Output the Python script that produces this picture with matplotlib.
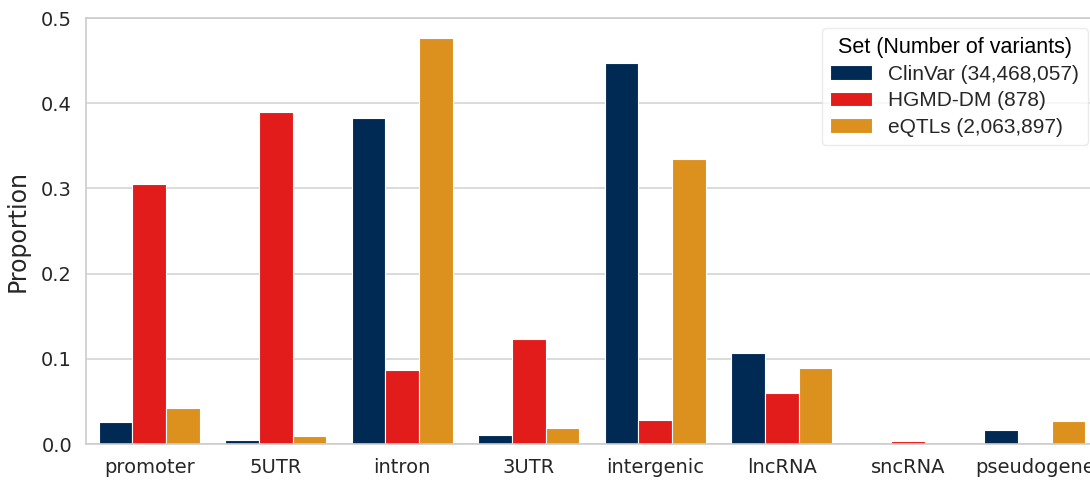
import numpy as np
import matplotlib
matplotlib.use("Agg")
import matplotlib.pyplot as plt
import seaborn as sns

# genomic region categories
regions = ["promoter", "5UTR", "intron", "3UTR", "intergenic",
           "lncRNA", "sncRNA", "pseudogene"]

# proportion of variants per region for each set
clinvar = [0.026, 0.005, 0.383, 0.011, 0.447, 0.107, 0.0, 0.017]
hgmd = [0.305, 0.390, 0.087, 0.123, 0.028, 0.060, 0.003, 0.0]
eqtls = [0.042, 0.009, 0.477, 0.019, 0.335, 0.089, 0.0, 0.027]

set_names = ["ClinVar (34,468,057)", "HGMD-DM (878)", "eQTLs (2,063,897)"]
set_colors = ["#002a54", "#e21b1b", "#dc901d"]

sns.set_theme(style="whitegrid")
plt.rcParams["font.family"] = ["DejaVu Sans"]

fig = plt.figure(figsize=(10.9, 4.8), dpi=100)
ax = fig.add_axes([0.0789, 0.075, 0.9284, 0.8875])

x = np.arange(len(regions))
width = 0.8 / 3
for i, (vals, name, color) in enumerate(zip([clinvar, hgmd, eqtls], set_names, set_colors)):
    ax.bar(x + (i - 1) * width, vals, width, color=color, label=name,
           edgecolor="white", linewidth=0.8)

ax.set_xlim(-0.5, len(regions) - 0.5)
ax.set_ylim(0, 0.5)
ax.set_yticks([0.0, 0.1, 0.2, 0.3, 0.4, 0.5])
ax.set_xticks(x)
ax.set_xticklabels(regions)
ax.tick_params(axis="both", labelsize=14, pad=10, colors="#262626", length=0)
ax.xaxis.grid(False)
ax.yaxis.grid(True, color="#d4d4d4", linewidth=1.2)
ax.set_axisbelow(True)
for sp in ax.spines.values():
    sp.set_color("#cccccc")
    sp.set_linewidth(1.2)
ax.set_ylabel("Proportion", fontsize=17, color="#262626", labelpad=8)

leg = ax.legend(loc="upper right", title="Set (Number of variants)",
                prop={"family": "Liberation Sans", "size": 15},
                title_fontproperties={"family": "Liberation Sans", "size": 15.5},
                frameon=True, fancybox=True, borderaxespad=0.5,
                labelspacing=0.35, handletextpad=0.8)
leg.get_frame().set_edgecolor("#e6e6e6")
leg.get_title().set_color("black")

fig.savefig("out.png", dpi=100)
